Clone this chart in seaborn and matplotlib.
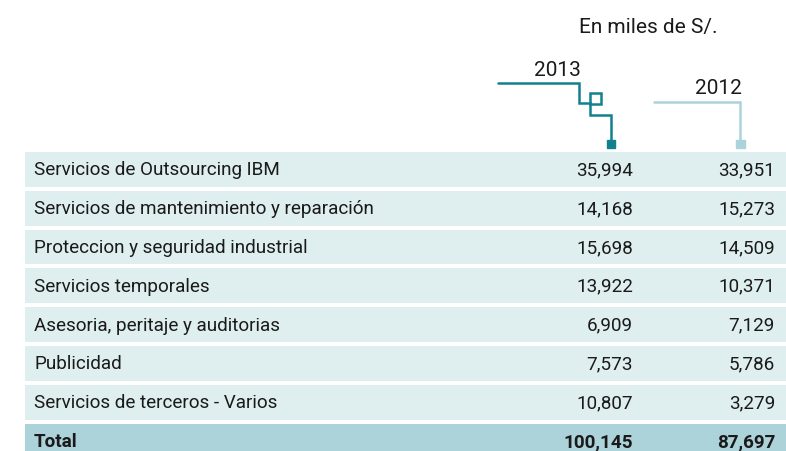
"""Tabla de servicios de terceros (en miles de S/.)."""

import matplotlib.pyplot as plt
import numpy as np
import pandas as pd
import seaborn as sns
from matplotlib.colors import ListedColormap

conceptos = [
    "Servicios de Outsourcing IBM",
    "Servicios de mantenimiento y reparación",
    "Proteccion y seguridad industrial",
    "Servicios temporales",
    "Asesoria, peritaje y auditorias",
    "Publicidad",
    "Servicios de terceros - Varios",
    "Total",
]
valores_2013 = [35994, 14168, 15698, 13922, 6909, 7573, 10807, 100145]
valores_2012 = [33951, 15273, 14509, 10371, 7129, 5786, 3279, 87697]
anios = ["2013", "2012"]
nota = "En miles de S/."

DARK = "#12808e"
LIGHT = "#acd3d9"
ROW_BG = "#dfeeef"
TEXT = "#1a1a1a"

sns.set_theme(style="white")
plt.rcParams["font.family"] = ["Roboto", "DejaVu Sans"]

W, H = 786, 451
fig = plt.figure(figsize=(W / 100, H / 100), dpi=100)

# row backgrounds as a one-column heatmap (the total row is darker)
row_h = 38.8
top = 150
n = len(conceptos)
x0 = 23
tipo = pd.DataFrame({"tipo": [1 if c == "Total" else 0 for c in conceptos]})
hm_ax = fig.add_axes([x0 / W, 1 - (top + n * row_h) / H, (W + 4 - x0) / W, n * row_h / H])
sns.heatmap(tipo, ax=hm_ax, cmap=ListedColormap([ROW_BG, LIGHT]), cbar=False,
            linewidths=1.6, linecolor="white", xticklabels=False, yticklabels=False)
hm_ax.set_axis_off()

# overlay axes in pixel coordinates for text and header decorations
ax = fig.add_axes([0, 0, 1, 1])
ax.set_xlim(0, W)
ax.set_ylim(H, 0)
ax.set_axis_off()
ax.patch.set_alpha(0)

for i, (c, a, b) in enumerate(zip(conceptos, valores_2013, valores_2012)):
    y = top + (i + 0.5) * row_h + 1
    weight = "bold" if c == "Total" else "normal"
    ax.text(34, y, c, fontsize=13.6, color=TEXT, va="center", ha="left", weight=weight)
    ax.text(633, y, f"{a:,}", fontsize=13.6, color=TEXT, va="center", ha="right", weight=weight)
    ax.text(775, y, f"{b:,}", fontsize=13.6, color=TEXT, va="center", ha="right", weight=weight)

ax.text(648, 28, nota, fontsize=15, color=TEXT, ha="center", va="center")

# 2013 connector
ax.text(557, 71, anios[0], fontsize=15, color=TEXT, ha="center", va="center")
ax.plot([498, 579, 579, 590, 590, 611, 611], [83, 83, 103, 103, 115, 115, 141],
        color=DARK, lw=1.8, solid_joinstyle="miter")
ax.add_patch(plt.Rectangle((590, 93), 11, 11, fill=False, ec=DARK, lw=1.8))
ax.add_patch(plt.Rectangle((607, 140), 8, 8, color=DARK))

# 2012 connector
ax.text(718, 88, anios[1], fontsize=15, color=TEXT, ha="center", va="center")
ax.plot([654, 740, 740], [102, 102, 141], color=LIGHT, lw=1.8, solid_joinstyle="miter")
ax.add_patch(plt.Rectangle((736, 140), 9, 8, color=LIGHT))

fig.savefig("out.png", dpi=100)
